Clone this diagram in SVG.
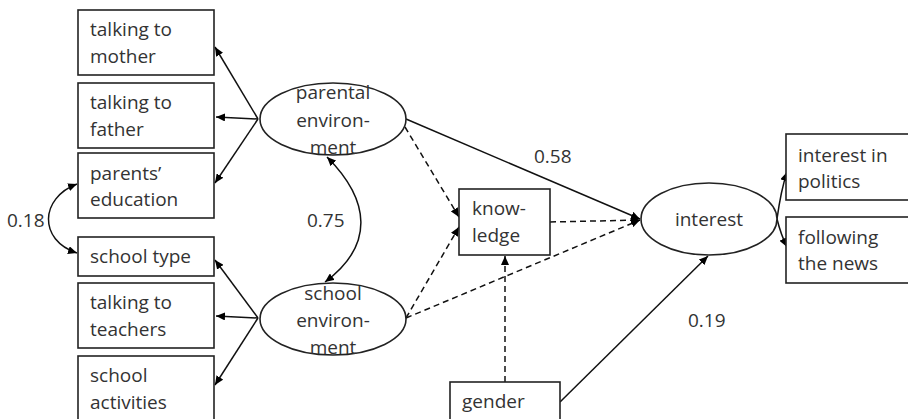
<svg xmlns="http://www.w3.org/2000/svg" width="908" height="419" viewBox="0 0 908 419">
<defs>
<marker id="ah" markerUnits="userSpaceOnUse" markerWidth="10" markerHeight="8" refX="9" refY="4" orient="auto-start-reverse">
<path d="M0,0 L9,4 L0,8 Z" fill="#000"/>
</marker>
<style>
.box{fill:#fff;stroke:#222;stroke-width:1.6}
.ell{fill:#fff;stroke:#222;stroke-width:1.6}
text{font-family:"Open Sans","Noto Sans","Liberation Sans",sans-serif;font-size:19px;fill:#333}
.c{text-anchor:middle}
.ln{fill:none;stroke:#111;stroke-width:1.5}
.ds{fill:none;stroke:#111;stroke-width:1.5;stroke-dasharray:6 4}
</style>
</defs>
<rect width="908" height="419" fill="#fff"/>
<g id="connectors">
<line class="ln" x1="258" y1="119" x2="215" y2="47" marker-end="url(#ah)"/>
<line class="ln" x1="258" y1="119" x2="216" y2="117" marker-end="url(#ah)"/>
<line class="ln" x1="258" y1="119" x2="215" y2="183" marker-end="url(#ah)"/>
<line class="ln" x1="258" y1="318" x2="215" y2="260" marker-end="url(#ah)"/>
<line class="ln" x1="258" y1="318" x2="216" y2="316" marker-end="url(#ah)"/>
<line class="ln" x1="258" y1="318" x2="215" y2="385" marker-end="url(#ah)"/>
<path class="ln" d="M77,184 C40,198 38,240 77,253" marker-start="url(#ah)" marker-end="url(#ah)"/>
<path class="ln" d="M327,157 C370,200 375,245 325,282" marker-start="url(#ah)" marker-end="url(#ah)"/>
<line class="ln" x1="406" y1="119" x2="640" y2="219" marker-end="url(#ah)"/>
<line class="ds" x1="405" y1="127" x2="459" y2="217" marker-end="url(#ah)"/>
<line class="ds" x1="406" y1="318" x2="459" y2="227" marker-end="url(#ah)"/>
<line class="ds" x1="406" y1="318" x2="640" y2="220" marker-end="url(#ah)"/>
<line class="ds" x1="550" y1="222" x2="640" y2="220" marker-end="url(#ah)"/>
<line class="ds" x1="505" y1="382" x2="505" y2="256" marker-end="url(#ah)"/>
<line class="ln" x1="560" y1="402" x2="708" y2="256" marker-end="url(#ah)"/>
<path class="ln" d="M777,219 Q781,190 787,172" marker-end="url(#ah)"/>
<path class="ln" d="M777,219 Q781,235 787,247" marker-end="url(#ah)"/>
</g>
<g id="talking-mother"><rect class="box" x="78" y="10" width="136" height="65"/><text x="90" y="36">talking to</text><text x="90" y="63">mother</text></g>
<g id="talking-father"><rect class="box" x="78" y="83" width="136" height="65"/><text x="90" y="109">talking to</text><text x="90" y="136">father</text></g>
<g id="parents-education"><rect class="box" x="78" y="153" width="136" height="65"/><text x="90" y="180">parents’</text><text x="90" y="206">education</text></g>
<g id="school-type"><rect class="box" x="78" y="237" width="136" height="39"/><text x="90" y="263">school type</text></g>
<g id="talking-teachers"><rect class="box" x="78" y="283" width="136" height="65"/><text x="90" y="309">talking to</text><text x="90" y="336">teachers</text></g>
<g id="school-activities"><rect class="box" x="78" y="356" width="136" height="70"/><text x="90" y="382">school</text><text x="90" y="409">activities</text></g>
<g id="parental-environment"><ellipse class="ell" cx="333" cy="119" rx="73" ry="36"/><text class="c" x="333" y="99">parental</text><text class="c" x="333" y="127">environ-</text><text class="c" x="333" y="154">ment</text></g>
<g id="school-environment"><ellipse class="ell" cx="333" cy="319" rx="73" ry="36"/><text class="c" x="333" y="300">school</text><text class="c" x="333" y="327">environ-</text><text class="c" x="333" y="354">ment</text></g>
<g id="knowledge"><rect class="box" x="459" y="189" width="91" height="66"/><text x="472" y="215">know-</text><text x="472" y="242">ledge</text></g>
<g id="gender"><rect class="box" x="450" y="382" width="110" height="45"/><text x="462" y="408">gender</text></g>
<g id="interest"><ellipse class="ell" cx="709" cy="219" rx="68" ry="36"/><text class="c" x="709" y="226">interest</text></g>
<g id="interest-politics"><rect class="box" x="786" y="134" width="130" height="66"/><text x="798" y="162">interest in</text><text x="798" y="188">politics</text></g>
<g id="following-news"><rect class="box" x="786" y="217" width="130" height="66"/><text x="798" y="244">following</text><text x="798" y="270">the news</text></g>
<g id="labels">
<text x="7" y="227">0.18</text>
<text x="307" y="227">0.75</text>
<text x="534" y="163">0.58</text>
<text x="688" y="327">0.19</text>
</g>
</svg>
